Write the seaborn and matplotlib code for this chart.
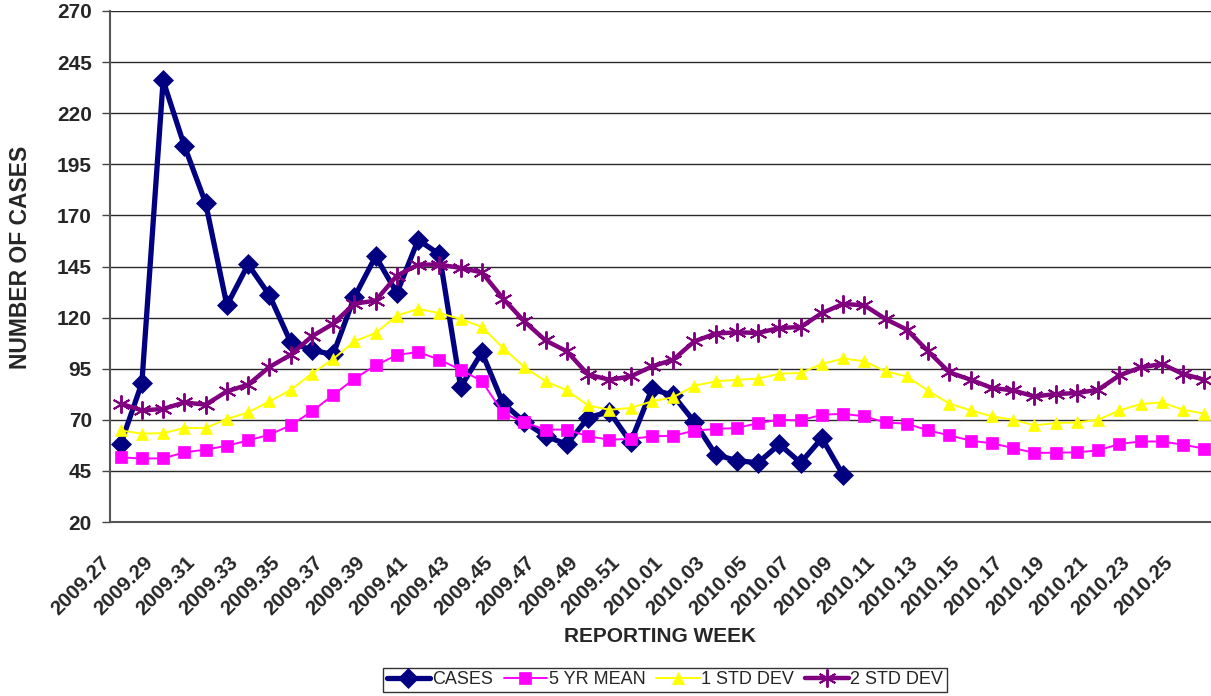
import numpy as np
import pandas as pd
import matplotlib
matplotlib.use("Agg")
import matplotlib.pyplot as plt
from matplotlib.transforms import ScaledTranslation
import seaborn as sns

weeks = [f"2009.{w:02d}" for w in range(27, 53)] + [f"2010.{w:02d}" for w in range(1, 27)]

cases = [58, 88, 236, 204, 176, 126, 146, 131, 108, 104, 102, 130, 150, 132, 158, 151,
         86, 103, 78, 69, 62, 58, 71, 74, 59, 85, 82, 69, 53, 50, 49, 58, 49, 61, 43]

mean5 = [51.6, 51.1, 51.1, 54.1, 55.4, 57.3, 59.9, 62.7, 67.3, 74.1, 82.1, 90.1, 96.6,
         101.7, 103.2, 99.4, 94.5, 88.9, 73.3, 68.7, 65.2, 65.2, 61.9, 60.3, 60.6, 61.9,
         62.2, 64.7, 65.5, 66.0, 68.4, 70.0, 69.7, 72.5, 72.9, 71.7, 68.7, 68.1, 64.8,
         62.4, 59.8, 58.5, 56.2, 53.8, 53.9, 54.1, 55.0, 58.2, 59.4, 59.4, 57.8, 55.9]

std1 = [64.8, 63.2, 63.5, 66.0, 66.0, 70.4, 73.6, 79.0, 84.6, 92.6, 99.7, 108.4, 112.5,
        121.0, 124.2, 122.2, 119.3, 115.4, 105.1, 95.8, 88.8, 84.4, 77.0, 74.9, 75.8,
        79.0, 81.0, 86.7, 88.8, 89.6, 90.1, 92.6, 92.9, 97.3, 100.0, 98.6, 93.7, 91.2,
        84.2, 77.9, 74.6, 71.7, 70.0, 67.3, 68.4, 68.7, 70.0, 74.6, 77.7, 78.5, 74.9, 73.0]

std2 = [77.9, 74.6, 75.3, 78.5, 77.4, 83.9, 87.2, 95.8, 101.8, 110.8, 117.0, 126.8,
        128.3, 140.5, 145.9, 145.9, 144.3, 142.1, 129.3, 118.1, 108.8, 103.5, 92.1,
        89.6, 91.2, 96.1, 99.4, 108.4, 112.2, 112.8, 112.5, 114.9, 115.4, 122.2, 126.7,
        126.0, 119.3, 114.1, 103.5, 93.2, 89.6, 85.6, 84.4, 81.4, 82.6, 83.1, 84.7,
        91.7, 95.6, 97.3, 92.4, 89.6]

series_names = ["CASES", "5 YR MEAN", "1 STD DEV", "2 STD DEV"]
y_ticks = list(range(20, 271, 25))

sns.set_style("white")
plt.rcParams["font.family"] = ["Liberation Sans", "DejaVu Sans"]

DPI = 100
fig = plt.figure(figsize=(12.11, 6.96), dpi=DPI)
ax = fig.add_axes([110 / 1211, 174 / 696, (1215 - 110) / 1211, (522 - 11) / 696])

idx = np.arange(len(weeks))

for v in y_ticks:
    ax.axhline(v, color="#2a2a2a", lw=1.0, zorder=0.5)

specs = [
    (cases, "#000080", 3.8, "D", 10, 0.5, 1),
    (mean5, "#FF00FF", 1.4, "s", 8, 0.5, 2),
    (std1, "#FFFF00", 1.4, "^", 9, 0.5, 3),
    (std2, "#800080", 3.2, (6, 2, 0), 13, 1.4, 4),
]
for name, (vals, col, lw, mk, ms, mew, z) in zip(series_names, specs):
    df = pd.DataFrame({"x": idx[:len(vals)], "y": vals})
    sns.lineplot(data=df, x="x", y="y", ax=ax, color=col, lw=lw, marker=mk,
                 markersize=ms, markeredgecolor=col, markeredgewidth=mew,
                 label=name, zorder=z, sort=False)

ax.set_xlim(-0.5, len(weeks) - 0.5)
ax.set_ylim(20, 270)
ax.set_yticks(y_ticks)
ax.set_yticklabels([str(v) for v in y_ticks], fontsize=15, fontweight="bold")

ax.set_xticks(idx[::2])
ax.set_xticklabels(weeks[::2], rotation=45, ha="right", va="center", rotation_mode="anchor",
                   fontsize=14.8, fontweight="bold")
ax.set_xticks(np.arange(-0.5, len(weeks), 1), minor=True)
ax.tick_params(axis="x", which="major", length=0, pad=0)
ax.tick_params(axis="x", which="minor", length=5, width=1, color="#444444", direction="out")
ax.tick_params(axis="y", which="major", length=6, width=1, color="#444444", direction="out",
               pad=7, left=True)

for s in ["top", "right"]:
    ax.spines[s].set_visible(False)
for s in ["left", "bottom"]:
    ax.spines[s].set_color("#555555")
    ax.spines[s].set_linewidth(1.5)

ax.set_xlabel("REPORTING WEEK", fontsize=15, fontweight="bold")
ax.set_ylabel("NUMBER OF CASES", fontsize=16.5, fontweight="bold")
ax.xaxis.set_label_coords(660 / 1211, 1 - 637 / 696, transform=fig.transFigure)
ax.xaxis.label.set_va("center")
ax.yaxis.set_label_coords(21 / 1211, 1 - 257 / 696, transform=fig.transFigure)
ax.yaxis.label.set_va("center")

leg = ax.legend(loc="center", bbox_to_anchor=(665 / 1211, 1 - 680 / 696),
                bbox_transform=fig.transFigure, ncol=4, frameon=True, fancybox=False,
                edgecolor="black", fontsize=13, handlelength=2.4, handletextpad=0.1,
                columnspacing=0.6, borderpad=0.2, borderaxespad=0)
leg.get_frame().set_linewidth(1.0)

off = ScaledTranslation(-13.5 / DPI, -37.5 / DPI, fig.dpi_scale_trans)
for lbl in ax.get_xticklabels():
    lbl.set_transform(lbl.get_transform() + off)

fig.savefig("out.png", dpi=DPI)
